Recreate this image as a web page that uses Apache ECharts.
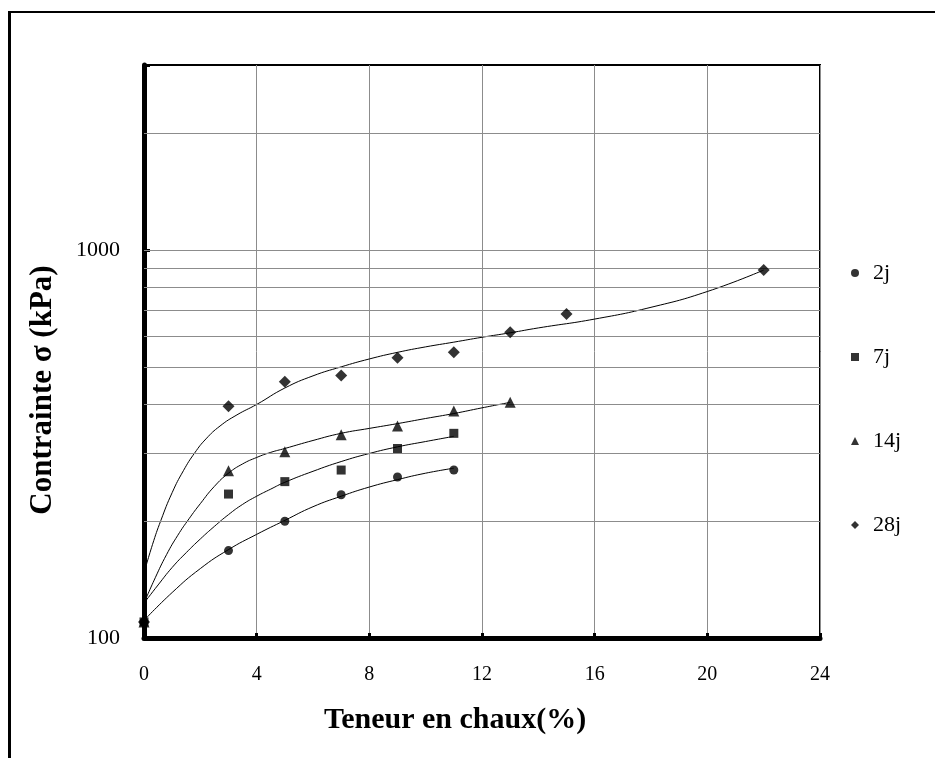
<!DOCTYPE html>
<html>
<head>
<meta charset="utf-8">
<script src="https://cdn.jsdelivr.net/npm/echarts@6/dist/echarts.min.js"></script>
<style>
  html, body { margin: 0; padding: 0; background: #fff; }
  #chart { width: 935px; height: 758px; }
</style>
</head>
<body>
<div id="chart"></div>
<script>
// Lime content (%) and measured strength (kPa) for each curing age
const x2j  = [0, 3, 5, 7, 9, 11];
const y2j  = [110, 168, 200, 234, 260, 271];
const x7j  = [0, 3, 5, 7, 9, 11];
const y7j  = [110, 235, 253, 271, 308, 337];
const x14j = [0, 3, 5, 7, 9, 11, 13];
const y14j = [110, 270, 302, 334, 352, 385, 405];
const x28j = [0, 3, 5, 7, 9, 11, 13, 15, 22];
const y28j = [110, 396, 458, 475, 528, 545, 614, 684, 888];

// Fitted trend curves, one per curing age
const c2x  = [0, 1, 2, 3, 4, 5, 6, 7, 8, 9, 10, 11];
const c2y  = [111, 131, 151, 169, 185, 201, 218, 232, 245, 256, 266, 274];
const c7x  = [0, 0.5, 1, 1.5, 2, 2.5, 3, 3.5, 4, 4.5, 5, 6, 7, 8, 9, 10, 11];
const c7y  = [123, 137, 152, 166, 180, 194, 208, 221, 232, 242, 252, 269, 285, 299, 311, 321, 331];
const c14x = [0, 0.4, 0.8, 1.2, 1.6, 2, 2.5, 3, 3.5, 4, 4.5, 5, 6, 7, 8, 9, 10, 11, 12, 13];
const c14y = [123, 143, 164, 184, 203, 222, 246, 266, 281, 292, 301, 308, 323, 337, 347, 357, 368, 379, 392, 405];
const c28x = [0, 0.3, 0.6, 1, 1.4, 1.8, 2.2, 2.7, 3.3, 4, 5, 6, 7, 8, 9, 10, 11, 12, 13, 14, 16, 18, 20, 22];
const c28y = [147, 174, 201, 237, 270, 300, 326, 352, 376, 400, 441, 474, 500, 524, 545, 563, 579, 596, 612, 630, 664, 712, 782, 888];

// Axis settings
const xTicks = [0, 4, 8, 12, 16, 20, 24];
const yLabels = [100, 1000];
const yGridValues = [200, 300, 400, 500, 600, 700, 800, 900, 1000, 2000];
const seriesNames = ['2j', '7j', '14j', '28j'];
const seriesSymbols = ['circle', 'rect', 'triangle', 'diamond'];
const symbolSizes = [9, 9, 11, 12];

const FONT = 'Liberation Serif';
const pairs = (xs, ys) => xs.map((x, i) => [x, ys[i]]);

const pointSets = [pairs(x2j, y2j), pairs(x7j, y7j), pairs(x14j, y14j), pairs(x28j, y28j)];
const curveSets = [pairs(c2x, c2y), pairs(c7x, c7y), pairs(c14x, c14y), pairs(c28x, c28y)];

const series = [];
// horizontal log grid lines
series.push({
  type: 'line',
  name: 'grid',
  data: [],
  silent: true,
  markLine: {
    silent: true,
    symbol: ['none', 'none'],
    label: { show: false },
    animation: false,
    lineStyle: { color: '#8c8c8c', width: 1, type: 'solid' },
    data: yGridValues.map(v => ({ yAxis: v }))
  }
});
curveSets.forEach((d, i) => {
  series.push({
    type: 'line',
    name: seriesNames[i] + ' fit',
    data: d,
    smooth: 0.5,
    showSymbol: false,
    symbol: 'none',
    silent: true,
    lineStyle: { color: '#000', width: 1 },
    z: 3
  });
});
// 7j drawn last so its square shows on the shared point at 0 %
[0, 2, 3, 1].forEach(i => {
  series.push({
    type: 'scatter',
    name: seriesNames[i],
    data: pointSets[i],
    symbol: seriesSymbols[i],
    symbolSize: symbolSizes[i],
    itemStyle: { color: '#000' },
    z: 5
  });
});

const chart = echarts.init(document.getElementById('chart'), null, { renderer: 'canvas' });
chart.setOption({
  animation: false,
  backgroundColor: '#fff',
  grid: {
    left: 144, right: 115, top: 65, bottom: 120,
    show: true, borderColor: '#000', borderWidth: 2, backgroundColor: 'transparent'
  },
  xAxis: {
    type: 'value',
    min: xTicks[0], max: xTicks[xTicks.length - 1], interval: 4,
    axisLine: { onZero: false, lineStyle: { color: '#000', width: 5 } },
    axisTick: { show: true, inside: true, length: 5, lineStyle: { color: '#000', width: 3 } },
    axisLabel: { margin: 27, color: '#000', fontFamily: FONT, fontSize: 20 },
    splitLine: { show: true, lineStyle: { color: '#8c8c8c', width: 1 } }
  },
  yAxis: {
    type: 'log',
    logBase: 10,
    min: 100, max: 3000,
    axisLine: { lineStyle: { color: '#000', width: 5 } },
    axisTick: { show: true, inside: true, length: 6, lineStyle: { color: '#000', width: 3 } },
    axisLabel: {
      margin: 24, color: '#000', fontFamily: FONT, fontSize: 22,
      formatter: v => (yLabels.indexOf(Math.round(v)) >= 0 ? String(Math.round(v)) : '')
    },
    splitLine: { show: false }
  },
  legend: {
    orient: 'vertical',
    left: 846, top: 257,
    itemGap: 62,
    itemWidth: 8, itemHeight: 8,
    data: seriesNames.map((n, i) => ({ name: n, icon: seriesSymbols[i] })),
    textStyle: { color: '#000', fontFamily: FONT, fontSize: 22, padding: [0, 0, 0, 9] },
    itemStyle: { color: '#000' }
  },
  graphic: [
    { type: 'line', shape: { x1: 8, y1: 12, x2: 935, y2: 12 }, style: { stroke: '#000', lineWidth: 2 }, silent: true },
    { type: 'line', shape: { x1: 9.5, y1: 11, x2: 9.5, y2: 758 }, style: { stroke: '#000', lineWidth: 3 }, silent: true },
    {
      type: 'text', x: 455, y: 720,
      style: { text: 'Teneur en chaux(%)', fontFamily: FONT, fontWeight: 'bold', fontSize: 30, fill: '#000', align: 'center', verticalAlign: 'middle' },
      silent: true
    },
    {
      type: 'text', x: 43, y: 390, rotation: Math.PI / 2,
      style: { text: 'Contrainte σ (kPa)', fontFamily: FONT, fontWeight: 'bold', fontSize: 31, fill: '#000', align: 'center', verticalAlign: 'middle' },
      silent: true
    }
  ],
  series: series
});
</script>
</body>
</html>
